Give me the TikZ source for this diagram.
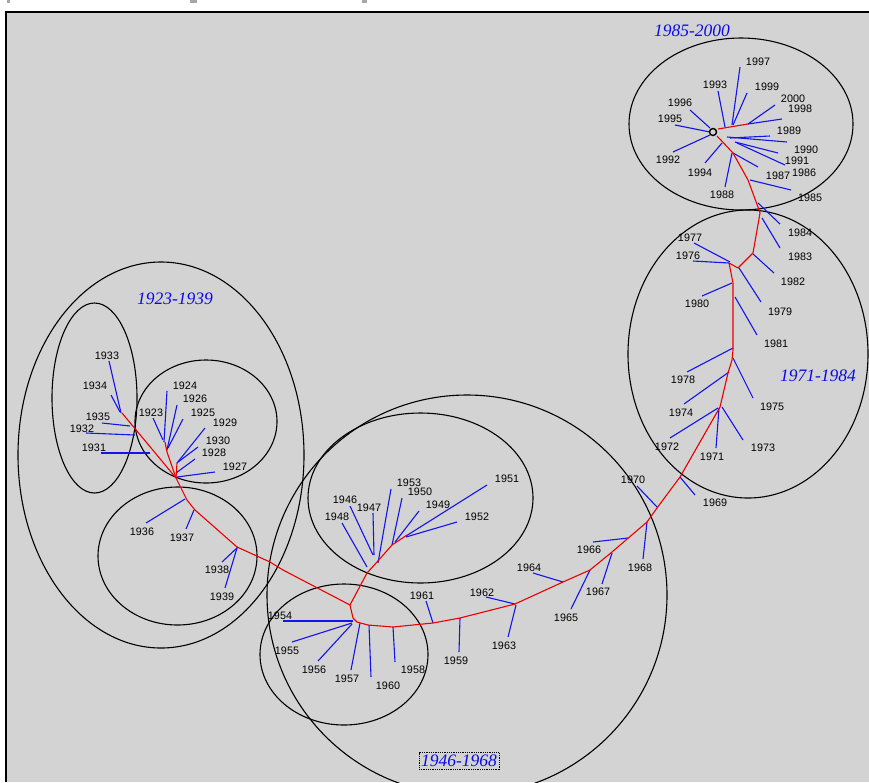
\documentclass[tikz,border=0pt]{standalone}
\usepackage{fontspec}
\newfontfamily\arialf{Liberation Sans}
\newfontfamily\timesf{Liberation Serif}
\definecolor{bggray}{RGB}{211,211,211}
\definecolor{leafblue}{RGB}{20,20,235}
\definecolor{trunkred}{RGB}{235,0,0}
\definecolor{titleblue}{RGB}{10,10,230}
\tikzset{
  lab/.style={font=\arialf\fontsize{10.8}{12}\selectfont, inner sep=0pt, text=black},
  ttl/.style={font=\timesf\itshape\fontsize{17.5}{20}\selectfont, inner sep=0pt, text=titleblue},
  leaf/.style={draw=leafblue, line width=1.1pt},
  trunk/.style={draw=trunkred, line width=1.1pt, line join=round},
  grp/.style={draw=black, line width=1.1pt},
}
\begin{document}
\begin{tikzpicture}[x=1pt,y=-1pt]
\useasboundingbox (0,0) rectangle (869,782);
\fill[white] (0,0) rectangle (869,782);
\fill[bggray] (6,12) rectangle (869,782);
\draw[black, line width=2pt] (6,782) -- (6,12) -- (869,12);
\fill[gray!70] (7,0) rectangle (10,3);
\fill[gray!70] (190,0) rectangle (197,3);
\fill[gray!70] (362,0) rectangle (367,3);

% group ellipses
\coordinate (gA) at (161,455);
\coordinate (gB) at (94.5,398);
\coordinate (gC) at (206,421.5);
\coordinate (gD) at (177.5,556);
\coordinate (gE) at (467,595);
\coordinate (gF) at (420.5,498);
\coordinate (gG) at (344,654.5);
\coordinate (gH) at (748,354);
\coordinate (gI) at (741,124);
\draw[grp] (gA) ellipse [x radius=143pt, y radius=193pt];
\draw[grp] (gB) ellipse [x radius=42.5pt, y radius=95pt];
\draw[grp] (gC) ellipse [x radius=71pt, y radius=61.5pt];
\draw[grp] (gD) ellipse [x radius=79.5pt, y radius=69pt];
\draw[grp] (gE) circle [radius=200pt];
\draw[grp] (gF) ellipse [x radius=112.5pt, y radius=85pt];
\draw[grp] (gG) ellipse [x radius=84pt, y radius=70.5pt];
\draw[grp] (gH) ellipse [x radius=120pt, y radius=144pt];
\draw[grp] (gI) ellipse [x radius=112pt, y radius=86pt];

% group titles
\node[ttl] (t1) at (692,31) {1985-2000};
\node[ttl] (t2) at (818,376) {1971-1984};
\node[ttl] (t3) at (175,299) {1923-1939};
\node[ttl, draw=black, densely dotted, line width=0.8pt, inner xsep=2pt, inner ysep=2.5pt] (t4) at (459,761) {1946-1968};

% leaves: year / start / end / label
\foreach \yr/\sx/\sy/\ex/\ey/\lx/\ly in {
 1997/732/125/740/67/758/62,
 1993/725/127/718/91/715/85,
 1999/733/125/747/93/767/87,
 2000/748/124/775/105/793/99,
 1998/748/124/782/119/800/109,
 1996/710/128/690/110/680/103,
 1995/710/132/675/125/670/119,
 1992/710/135/673/152/668/160,
 1994/722/143/705/163/700/173,
 1988/732/153/725/187/722/195,
 1989/730/138/770/136/789/131,
 1990/727/137/787/142/806/150,
 1991/735/142/778/153/797/161,
 1986/737/143/785/165/804/173,
 1987/733/153/758/167/778/176,
 1985/750/180/791/190/810/198,
 1984/758/203/780/224/800/233,
 1983/762/218/780/248/800/257,
 1982/753/254/774/273/793/282,
 1979/739/268/761/302/780/312,
 1981/735/297/757/335/776/344,
 1977/730/262/694/243/690/238,
 1976/729/263/693/261/688/256,
 1980/732/283/702/296/697/304,
 1978/733/348/687/372/683/380,
 1975/733/358/753/398/772/407,
 1974/729/372/684/404/681/413,
 1972/718/408/670/438/667/447,
 1971/719/408/716/448/712/457,
 1973/722/407/743/440/763/448,
 1969/680/477/695/495/715/503,
 1970/657/507/637/486/633/480,
 1968/647/522/643/559/640/568,
 1966/628/538/593/542/589/550,
 1967/612/553/602/584/598/592,
 1965/590/570/571/609/566/618,
 1964/563/582/533/573/529/568,
 1962/515/604/486/597/482/593,
 1963/516/605/508/637/504/646,
 1959/460/618/459/652/456/661,
 1961/433/623/426/601/422/596,
 1954/353/621/283/621/280/616,
 1955/352/623/292/642/287/651,
 1956/352/624/318/661/314/670,
 1957/360/623/351/670/347/679,
 1960/369/625/371/677/388/686,
 1958/393/627/395/662/413/670,
 1948/367/567/342/523/337/517,
 1946/373/555/350/506/345/500,
 1947/374/555/373/513/369/508,
 1953/378/563/391/489/409/483,
 1950/392/545/402/498/420/492,
 1949/395/542/419/511/438/505,
 1951/406/536/487/485/507/479,
 1952/406/537/457/522/477/517,
 1933/121/413/109/361/107/356,
 1934/120/412/111/395/95/386,
 1935/130/426/102/423/98/417,
 1932/135/435/86/433/82/429,
 1931/150/453/101/453/94/448,
 1923/163/440/153/418/151/413,
 1924/164/442/167/391/185/386,
 1926/167/450/177/405/195/399,
 1925/168/448/183/419/203/413,
 1929/177/463/205/428/225/423,
 1930/178/462/198/447/218/441,
 1928/176/473/195/459/214/453,
 1927/177/477/215/472/235/467,
 1936/185/499/146/523/142/532,
 1937/194/510/186/529/182/538,
 1938/238/547/222/562/217/570,
 1939/237/548/225/588/222/597}
{
 \coordinate (s\yr) at (\sx,\sy);
 \coordinate (e\yr) at (\ex,\ey);
 \node[lab] (l\yr) at (\lx,\ly) {\yr};
 \draw[leaf] (s\yr) -- (e\yr);
}

% trunk points
\foreach \n/\x/\y in {
 c0/713/132, q0/718/129, q1/748/124,
 m0/717/136, m1/733/153, m2/748/180, m3/758/207, m4/760/213, m5/753/253,
 m6/738/268, m7/729/263, m8/733/283, m9/733/350, m10/732/360, m11/728/373,
 m12/720/407, m13/680/477, m14/657/508, m15/647/522, m16/612/552, m17/590/570,
 m18/563/582, m19/515/604, m20/460/618, m21/433/623, m22/393/627, m23/368/625,
 m24/357/622, m25/353/618, m26/350/605,
 u1/367/573, u2/377/562, u3/392/545, u4/407/535,
 k1/283/570, k2/270/562, k3/237/547, k4/195/510, k5/187/500, k6/176/478,
 h1/167/452, h2/165/442, h3/122/413, h4/177/463}
 \coordinate (\n) at (\x,\y);

\draw[trunk] (q0) -- (q1);
\draw[trunk] (m0) -- (m1) -- (m2) -- (m3) -- (m4) -- (m5) -- (m6) -- (m7) -- (m8)
  -- (m9) -- (m10) -- (m11) -- (m12) -- (m13) -- (m14) -- (m15) -- (m16) -- (m17)
  -- (m18) -- (m19) -- (m20) -- (m21) -- (m22) -- (m23) -- (m24) -- (m25) -- (m26);
\draw[trunk] (m26) -- (u1) -- (u2) -- (u3) -- (u4);
\draw[trunk] (m26) -- (k1) -- (k2) -- (k3) -- (k4) -- (k5) -- (k6);
\draw[trunk] (k6) -- (h1) -- (h2);
\draw[trunk] (k6) -- (h3);
\draw[trunk] (k6) -- (h4);

\node[draw=black, circle, line width=1.4pt, minimum size=7pt, inner sep=0pt] (root) at (c0) {};
\end{tikzpicture}
\end{document}
